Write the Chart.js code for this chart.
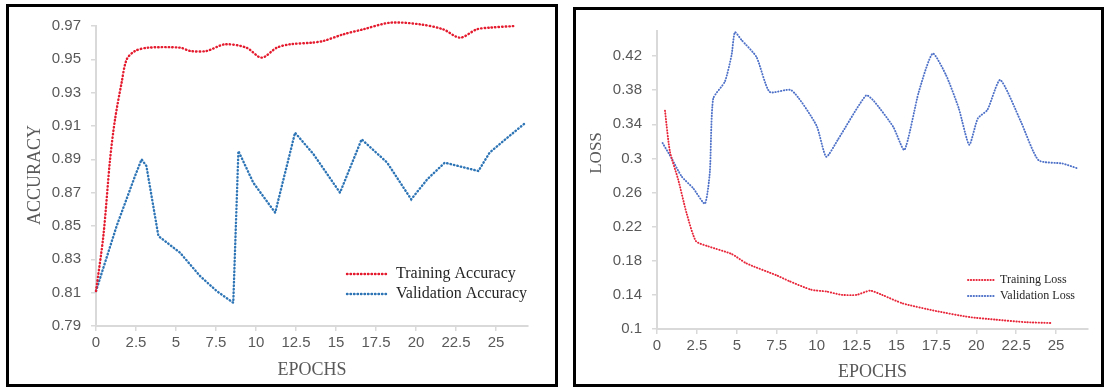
<!DOCTYPE html>
<html>
<head>
<meta charset="utf-8">
<script src="https://cdn.jsdelivr.net/npm/chart.js@4.4.1/dist/chart.umd.min.js"></script>
<style>
  html, body { margin: 0; padding: 0; background: #fff; }
  body { width: 1104px; height: 387px; position: relative; overflow: hidden; }
  .panel { position: absolute; border: 3px solid #000; background: #fff; box-sizing: border-box; }
  #accPanel { left: 6px; top: 4px; width: 552px; height: 383px; }
  #lossPanel { left: 573px; top: 7px; width: 531px; height: 380px; }
  canvas { display: block; }
</style>
</head>
<body>
<div class="panel" id="accPanel"><canvas id="accChart" width="546" height="377"></canvas></div>
<div class="panel" id="lossPanel"><canvas id="lossChart" width="525" height="374"></canvas></div>
<script>
// Valores (época, valor)
const trainAccEpochs = [0, 0.46, 0.88, 1.19, 1.6, 1.92, 2.44, 3.27, 5.25, 5.9, 6.9, 8.06, 9.4, 10.35, 11.3, 12.1, 13.5, 14.2, 15.46, 16.7, 18.4, 20.25, 21.7, 22.75, 23.8, 24.6, 26.2];
const trainAcc = [0.811, 0.844, 0.890, 0.914, 0.936, 0.950, 0.955, 0.957, 0.957, 0.955, 0.955, 0.959, 0.957, 0.951, 0.957, 0.959, 0.960, 0.961, 0.965, 0.968, 0.972, 0.971, 0.968, 0.963, 0.968, 0.969, 0.970];

const valAccEpochs = [0, 1.29, 2.44, 2.85, 3.15, 3.9, 5.25, 6.5, 7.54, 8.58, 8.9, 9.83, 11.2, 12.44, 13.6, 15.25, 16.6, 18.2, 19.7, 20.7, 21.8, 23.9, 24.6, 25.46, 26.85];
const valAcc = [0.811, 0.850, 0.880, 0.890, 0.886, 0.844, 0.834, 0.820, 0.811, 0.804, 0.895, 0.876, 0.858, 0.906, 0.893, 0.870, 0.902, 0.888, 0.866, 0.878, 0.888, 0.883, 0.894, 0.901, 0.912];

const trainLossEpochs = [0.5, 0.81, 1.33, 1.85, 2.44, 3.2, 4.67, 5.6, 7.48, 8.3, 9.67, 10.6, 11.6, 12.5, 13.35, 14.1, 15.4, 17.5, 19.56, 21.2, 23.1, 24.7];
const trainLoss = [0.356, 0.308, 0.275, 0.236, 0.203, 0.197, 0.188, 0.177, 0.163, 0.156, 0.146, 0.144, 0.140, 0.140, 0.145, 0.140, 0.130, 0.121, 0.114, 0.111, 0.108, 0.107];

const valLossEpochs = [0.35, 0.92, 1.54, 2.27, 3.0, 3.31, 3.52, 4.25, 4.67, 4.88, 5.29, 6.23, 7.06, 8.42, 9.98, 10.6, 11.33, 13.1, 13.6, 14.8, 15.5, 16.4, 17.27, 18.1, 18.9, 19.56, 20.1, 20.7, 21.5, 22.8, 23.9, 25.4, 26.4];
const valLoss = [0.318, 0.300, 0.279, 0.265, 0.247, 0.284, 0.370, 0.390, 0.421, 0.448, 0.439, 0.419, 0.378, 0.380, 0.339, 0.302, 0.322, 0.374, 0.367, 0.337, 0.310, 0.378, 0.423, 0.398, 0.359, 0.316, 0.347, 0.357, 0.392, 0.343, 0.298, 0.294, 0.288];

// Rótulos dos eixos
const epochTicks = [0, 2.5, 5, 7.5, 10, 12.5, 15, 17.5, 20, 22.5, 25];
const accTicks = [0.79, 0.81, 0.83, 0.85, 0.87, 0.89, 0.91, 0.93, 0.95, 0.97];
const lossTicks = [0.1, 0.14, 0.18, 0.22, 0.26, 0.3, 0.34, 0.38, 0.42];

const toPoints = (xs, ys) => xs.map((x, i) => ({ x: x, y: ys[i] }));

// Legenda dentro da área do gráfico
const insideLegend = {
    id: "insideLegend",
    afterDraw(chart, args, opts) {
        const ctx = chart.ctx;
        ctx.save();
        chart.data.datasets.forEach((ds, i) => {
            const y = opts.y[i];
            ctx.strokeStyle = ds.borderColor;
            ctx.lineWidth = ds.borderWidth;
            ctx.lineCap = "round";
            ctx.setLineDash(ds.borderDash);
            ctx.beginPath();
            ctx.moveTo(opts.x, y);
            ctx.lineTo(opts.x + opts.sample, y);
            ctx.stroke();
            ctx.setLineDash([]);
            ctx.fillStyle = opts.color;
            ctx.font = opts.font;
            ctx.textBaseline = "middle";
            ctx.fillText(ds.label, opts.x + opts.sample + opts.gap, y);
        });
        ctx.restore();
    }
};

// Título do eixo Y (rotacionado)
const yTitle = {
    id: "yTitle",
    afterDraw(chart, args, opts) {
        const ctx = chart.ctx;
        ctx.save();
        ctx.translate(opts.x, opts.y);
        ctx.rotate(-Math.PI / 2);
        ctx.font = opts.font;
        ctx.fillStyle = opts.color;
        ctx.textAlign = "center";
        ctx.textBaseline = "middle";
        ctx.fillText(opts.text, 0, 0);
        ctx.restore();
    }
};

const tickFont = { family: "'Liberation Sans', Arial, sans-serif", size: 15 };
const serif = "'Liberation Serif', 'Times New Roman', serif";

function xScale(height, titlePad) {
    return {
        type: "linear",
        min: 0,
        max: 27,
        afterBuildTicks: s => { s.ticks = epochTicks.map(v => ({ value: v })); },
        afterFit: s => { s.height = height; },
        ticks: { color: "#595959", font: tickFont, padding: 3, maxRotation: 0, callback: v => String(v) },
        grid: { drawOnChartArea: false, tickLength: 5, color: "#d9d9d9", lineWidth: 1.5 },
        border: { color: "#d9d9d9", width: 2 },
        title: { display: true, text: "EPOCHS", color: "#595959", font: { family: serif, size: 18 }, padding: { top: 0, bottom: titlePad } }
    };
}

function yScale(min, max, ticks, width) {
    return {
        min: min,
        max: max,
        afterBuildTicks: s => { s.ticks = ticks.map(v => ({ value: v })); },
        afterFit: s => { s.width = width; },
        ticks: { color: "#595959", font: tickFont, padding: 10, callback: v => String(v) },
        grid: { drawOnChartArea: false, tickLength: 5, color: "#d9d9d9", lineWidth: 1.5 },
        border: { color: "#d9d9d9", width: 2 }
    };
}

function lineDataset(label, xs, ys, color, width, dash, tension) {
    return {
        label: label,
        data: toPoints(xs, ys),
        borderColor: color,
        borderWidth: width,
        borderDash: dash,
        borderCapStyle: "round",
        pointRadius: 0,
        fill: false,
        clip: false,
        tension: tension
    };
}

// Acurácia
new Chart(document.getElementById("accChart").getContext("2d"), {
    type: "line",
    data: {
        datasets: [
            lineDataset("Training Accuracy", trainAccEpochs, trainAcc, "#e41b2e", 2.4, [0.5, 3], 0.3),
            lineDataset("Validation Accuracy", valAccEpochs, valAcc, "#2e75b6", 2.4, [0.5, 3], 0)
        ]
    },
    options: {
        responsive: false,
        animation: false,
        layout: { padding: { top: 19, right: 27, left: 0, bottom: 0 } },
        scales: {
            x: xScale(58, 3),
            y: yScale(0.79, 0.97, accTicks, 87)
        },
        plugins: {
            legend: { display: false },
            tooltip: { enabled: false },
            insideLegend: { x: 338, y: [267, 287], sample: 39, gap: 10, color: "#262626", font: "16px " + serif },
            yTitle: { text: "ACCURACY", x: 26, y: 168, color: "#595959", font: "18px " + serif }
        }
    },
    plugins: [insideLegend, yTitle]
});

// Perda
new Chart(document.getElementById("lossChart").getContext("2d"), {
    type: "line",
    data: {
        datasets: [
            lineDataset("Training Loss", trainLossEpochs, trainLoss, "#e8263a", 1.9, [0.4, 2.4], 0.2),
            lineDataset("Validation Loss", valLossEpochs, valLoss, "#4f72c8", 1.9, [0.4, 2.4], 0.2)
        ]
    },
    options: {
        responsive: false,
        animation: false,
        layout: { padding: { top: 20.5, right: 13, left: 0, bottom: 0 } },
        scales: {
            x: xScale(55, 1),
            y: yScale(0.1, 0.45, lossTicks, 81)
        },
        plugins: {
            legend: { display: false },
            tooltip: { enabled: false },
            insideLegend: { x: 392, y: [270, 286], sample: 28, gap: 4, color: "#262626", font: "12px " + serif },
            yTitle: { text: "LOSS", x: 21, y: 143, color: "#595959", font: "17px " + serif }
        }
    },
    plugins: [insideLegend, yTitle]
});
</script>
</body>
</html>
